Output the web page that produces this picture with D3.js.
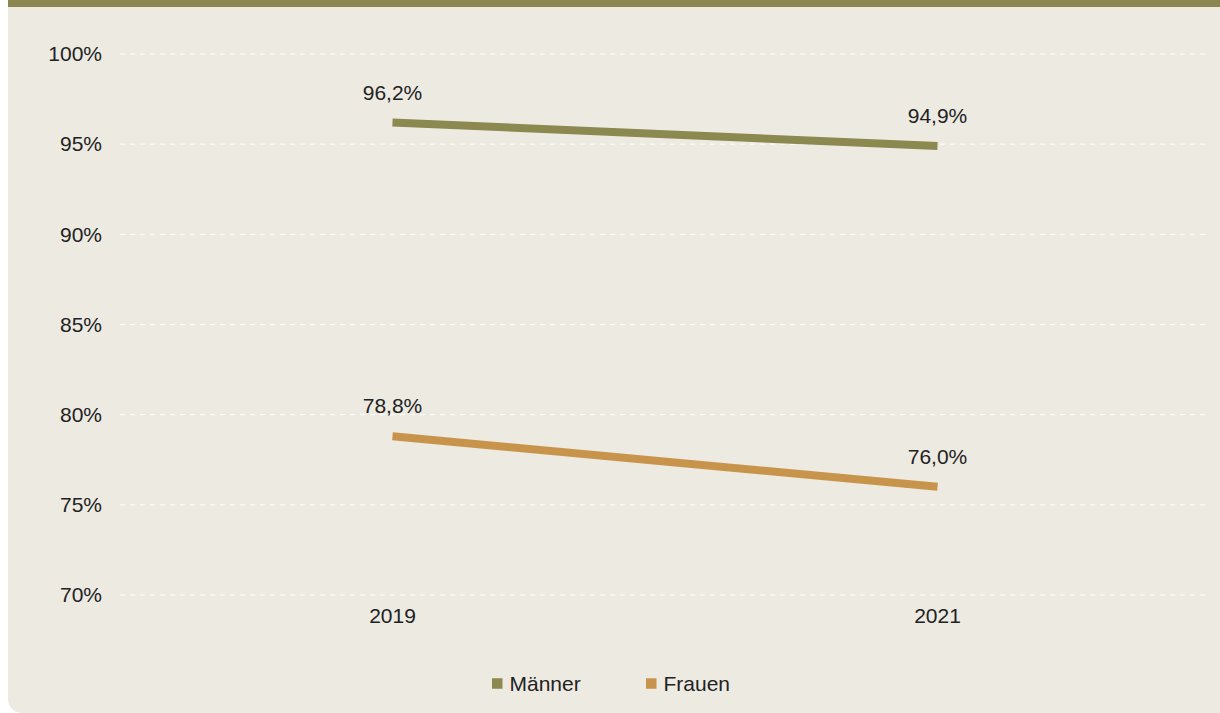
<!DOCTYPE html>
<html>
<head>
<meta charset="utf-8">
<script src="https://cdn.jsdelivr.net/npm/d3@7/dist/d3.min.js"></script>
<style>
  html, body { margin: 0; padding: 0; background: #ffffff; }
  svg { display: block; }
  text { font-family: "Liberation Sans", Arial, sans-serif; fill: #222; }
</style>
</head>
<body>
<svg id="chart" width="1220" height="713"></svg>
<script>
// Data
const years = ["2019", "2021"];
const maenner = [96.2, 94.9];
const frauen = [78.8, 76.0];
const yTicks = [70, 75, 80, 85, 90, 95, 100];
const seriesNames = ["Männer", "Frauen"];
const seriesColors = ["#8b8850", "#c8944b"];

const W = 1220, H = 713;
const FONT = "'Liberation Sans', Arial, sans-serif";
const FS = 21;
const svg = d3.select("#chart");

// Panel background with olive top band and rounded bottom-left corner
const px = 8, r = 14;
svg.append("path")
  .attr("d", `M${px},0 H${W} V${H} H${px + r} A${r},${r} 0 0 1 ${px},${H - r} Z`)
  .attr("fill", "#edeae2");
svg.append("rect").attr("x", px).attr("y", 0).attr("width", W - px).attr("height", 7).attr("fill", "#8b8650");

const plot = { left: 120, right: 1210, top: 54, bottom: 595 };

const x = d3.scaleBand().domain(years).range([plot.left, plot.right]).padding(0);
const y = d3.scaleLinear().domain([70, 100]).range([plot.bottom, plot.top]);
const fmt = v => d3.format(".1f")(v).replace(".", ",") + "%";

// Gridlines
svg.append("g").selectAll("line").data(yTicks).join("line")
  .attr("x1", plot.left).attr("x2", plot.right)
  .attr("y1", d => y(d)).attr("y2", d => y(d))
  .attr("stroke", "#ffffff").attr("stroke-width", 1)
  .attr("stroke-dasharray", "5,5");

const styleText = g => g.selectAll("text")
  .attr("font-size", FS).attr("fill", "#222")
  .attr("font-family", FONT);

// Y axis labels
const yAxis = d3.axisLeft(y).tickValues(yTicks).tickSize(0).tickPadding(0)
  .tickFormat(d => d + "%");
svg.append("g").attr("transform", `translate(102,0)`).call(yAxis)
  .call(g => g.select(".domain").remove())
  .call(styleText);

// X axis labels
const xAxis = d3.axisBottom(x).tickSize(0).tickPadding(0);
svg.append("g").attr("transform", `translate(0,608)`).call(xAxis)
  .call(g => g.select(".domain").remove())
  .call(styleText);

// Lines with value labels
const cx = d => x(d) + x.bandwidth() / 2;
const line = d3.line().x((d, i) => cx(years[i])).y(d => y(d));
[maenner, frauen].forEach((vals, si) => {
  svg.append("path").datum(vals)
    .attr("d", line)
    .attr("fill", "none")
    .attr("stroke", seriesColors[si])
    .attr("stroke-width", 8);
  svg.append("g").selectAll("text").data(vals).join("text")
    .attr("x", (d, i) => cx(years[i]))
    .attr("y", d => y(d) - 23)
    .attr("text-anchor", "middle")
    .attr("font-size", FS)
    .text(d => fmt(d));
});

// Legend
const legend = svg.append("g").attr("transform", "translate(492,683.5)");
const legendX = [0, 154];
seriesNames.forEach((name, i) => {
  const g = legend.append("g").attr("transform", `translate(${legendX[i]},0)`);
  g.append("rect").attr("x", 0).attr("y", -5.25).attr("width", 10.5).attr("height", 10.5).attr("fill", seriesColors[i]);
  g.append("text").attr("x", 17.5).attr("y", 7.3).attr("font-size", FS).text(name);
});
</script>
</body>
</html>
